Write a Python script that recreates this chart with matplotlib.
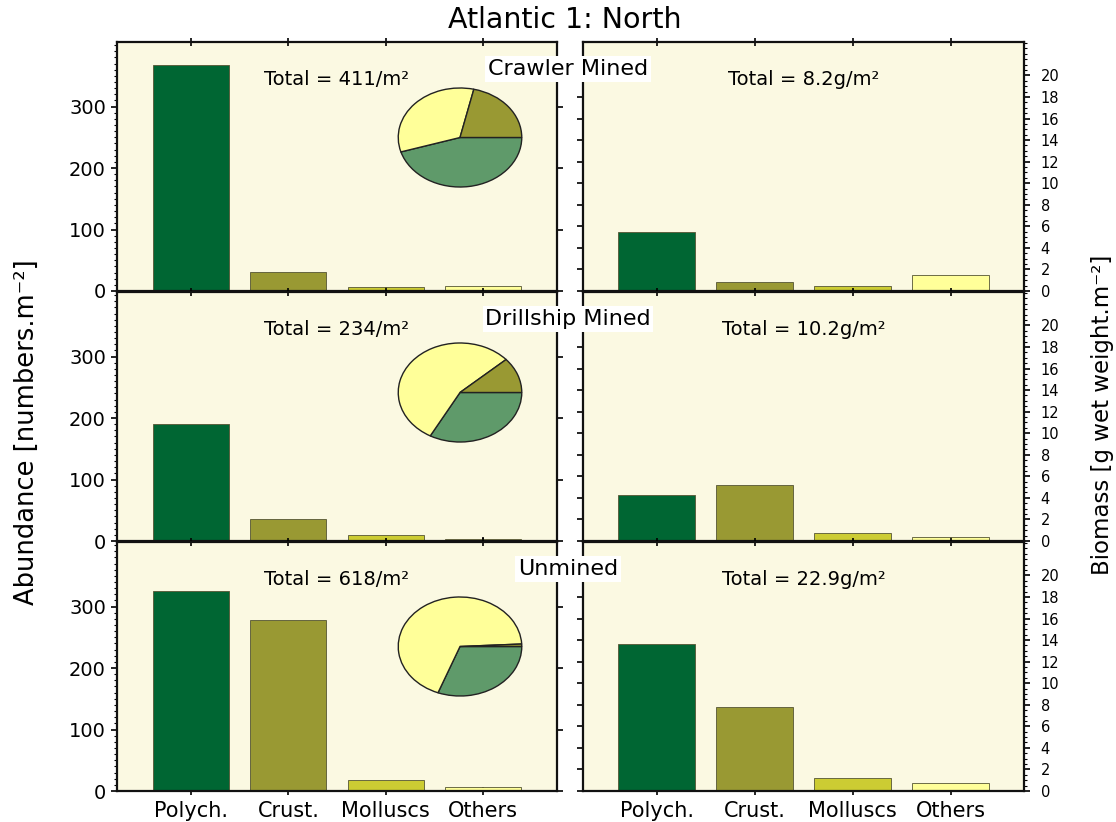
import matplotlib.pyplot as plt
from matplotlib.ticker import MultipleLocator
import numpy as np

plt.rcParams['font.family'] = ['DejaVu Sans']

# ---- data ----
categories = ["Polych.", "Crust.", "Molluscs", "Others"]
sites = ["Crawler Mined", "Drillship Mined", "Unmined"]

abundance_crawler = [367, 31, 6, 8]
abundance_drillship = [190, 36, 9, 4]
abundance_unmined = [325, 278, 18, 6]

biomass_crawler = [5.5, 0.85, 0.5, 1.5]
biomass_drillship = [4.3, 5.2, 0.7, 0.4]
biomass_unmined = [13.6, 7.8, 1.2, 0.75]

abundance_totals = ["411", "234", "618"]
biomass_totals = ["8.2", "10.2", "22.9"]

# pie shares (clockwise from 3 o'clock): polych, others, crust
pie_crawler = [45.3, 33.3, 21.4]
pie_drillship = [33.0, 55.4, 11.6]
pie_unmined = [30.8, 68.4, 0.8]

abundance = [abundance_crawler, abundance_drillship, abundance_unmined]
biomass = [biomass_crawler, biomass_drillship, biomass_unmined]
pies = [pie_crawler, pie_drillship, pie_unmined]

bar_colors = ["#006633", "#999933", "#cccc33", "#ffff99"]
pie_colors = ["#5f9a6a", "#ffff99", "#999933"]
bg = "#fbf9e2"

W, H = 1116, 822
fig = plt.figure(figsize=(W / 100, H / 100), dpi=100)


def fx(px):
    return px / W


def fy(py):
    return 1 - py / H


row_top = [42, 292, 542]
row_h = 249
x = np.arange(len(categories))

for r in range(3):
    b = fy(row_top[r] + row_h)
    h = row_h / H

    # abundance panel
    axl = fig.add_axes([fx(117), b, fx(557 - 117), h])
    axl.set_facecolor(bg)
    axl.bar(x, abundance[r], width=0.78, color=bar_colors,
            edgecolor="#555533", linewidth=0.6, zorder=2)
    axl.set_xlim(-0.76, 3.76)
    axl.set_ylim(0, 405)
    axl.set_yticks([0, 100, 200, 300])
    axl.yaxis.set_minor_locator(MultipleLocator(10))
    axl.tick_params(axis="y", which="major", direction="out", length=4,
                    width=1.2, labelsize=14, right=True, pad=4)
    axl.tick_params(axis="y", which="minor", direction="out", length=2, width=0.8)
    axl.tick_params(axis="x", direction="inout", length=6, width=1.2, top=True,
                    labelsize=15, labelbottom=(r == 2), pad=4)
    axl.set_xticks(x)
    axl.set_xticklabels(categories)
    axl.text(0.5, 0.85, "Total = %s/m²" % abundance_totals[r],
             transform=axl.transAxes, ha="center", va="center", fontsize=14)

    # biomass panel
    axr = fig.add_axes([fx(583), b, fx(1024 - 583), h])
    axr.set_facecolor(bg)
    axr.bar(x, biomass[r], width=0.78, color=bar_colors,
            edgecolor="#555533", linewidth=0.6, zorder=2)
    axr.set_xlim(-0.75, 3.75)
    axr.set_ylim(0, 23.1)
    axr.yaxis.tick_right()
    axr.set_yticks(np.arange(0, 21, 2))
    axr.yaxis.set_minor_locator(MultipleLocator(0.5))
    axr.tick_params(axis="y", which="major", direction="out", length=4,
                    width=1.2, labelsize=10.5, left=True, pad=8)
    axr.tick_params(axis="y", which="minor", direction="out", length=2, width=0.8)
    axr.tick_params(axis="x", direction="inout", length=6, width=1.2, top=True,
                    labelsize=15, labelbottom=(r == 2), pad=4)
    axr.set_xticks(x)
    axr.set_xticklabels(categories)
    axr.text(0.5, 0.85, "Total = %sg/m²" % biomass_totals[r],
             transform=axr.transAxes, ha="center", va="center", fontsize=14)

    for ax in (axl, axr):
        for s in ax.spines.values():
            s.set_linewidth(1.6)
            s.set_color("#111111")

    # pie inset (elliptical)
    pie_top = [87, 342, 596][r]
    axp = fig.add_axes([fx(397), fy(pie_top + 101), fx(126), 101 / H])
    axp.pie(pies[r], colors=pie_colors, startangle=0, counterclock=False,
            wedgeprops=dict(edgecolor="#222222", linewidth=1.0))
    axp.set_aspect("auto")
    axp.set_xlim(-1.02, 1.02)
    axp.set_ylim(-1.02, 1.02)
    axp.axis("off")

    # site label with white box across the gap
    fig.text(fx(568), fy(row_top[r] + 27), sites[r], ha="center", va="center",
             fontsize=16, bbox=dict(facecolor="white", edgecolor="none", pad=2))

fig.text(fx(565), fy(20), "Atlantic 1: North", ha="center", va="center", fontsize=20.5)
fig.text(fx(27), fy(432), "Abundance [numbers.m⁻²]",
         rotation=90, ha="center", va="center", fontsize=18.5)
fig.text(fx(1103), fy(415), "Biomass [g wet weight.m⁻²]",
         rotation=90, ha="center", va="center", fontsize=16.5)

fig.savefig("out.png", dpi=100, facecolor="white")
